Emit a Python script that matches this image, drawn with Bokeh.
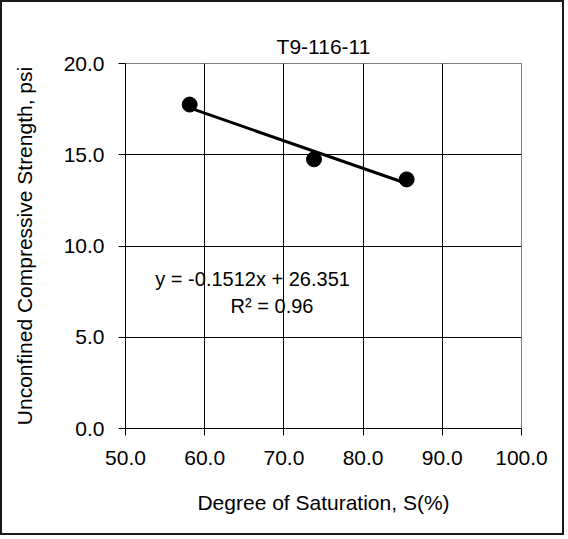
from bokeh.plotting import figure
from bokeh.models import NumeralTickFormatter, FixedTicker, Range1d, Label
from bokeh.embed import file_html
from bokeh.resources import INLINE

# data
saturation = [58.1, 73.8, 85.5]
ucs = [17.75, 14.75, 13.65]
slope = -0.1512
intercept = 26.351
r_squared = 0.96
x_ticks = [50, 60, 70, 80, 90, 100]
y_ticks = [0, 5, 10, 15, 20]
title_text = "T9-116-11"
x_label = "Degree of Saturation, S(%)"
y_label = "Unconfined Compressive Strength, psi"

FONT = "Liberation Sans"
FS = "21px"

p = figure(width=564, height=535,
           x_range=Range1d(x_ticks[0], x_ticks[-1]),
           y_range=Range1d(y_ticks[0], y_ticks[-1]),
           output_backend="svg", toolbar_location=None,
           min_border_left=123, min_border_right=45,
           min_border_top=61, min_border_bottom=109,
           title=title_text)
p.styles = {"border": "2px solid #1a1a1a"}

p.title.align = "center"
p.title.text_font = FONT
p.title.text_font_size = FS
p.title.text_font_style = "normal"
p.title.text_color = "black"
p.title.standoff = 11

p.outline_line_color = "#808080"
p.outline_line_width = 1
p.background_fill_color = "white"
p.border_fill_color = "white"

for ax, ticks, lab in ((p.xaxis[0], x_ticks, x_label), (p.yaxis[0], y_ticks, y_label)):
    ax.ticker = FixedTicker(ticks=ticks)
    ax.formatter = NumeralTickFormatter(format="0.0")
    ax.axis_label = lab
    ax.axis_label_text_font = FONT
    ax.axis_label_text_font_size = FS
    ax.axis_label_text_font_style = "normal"
    ax.axis_label_text_color = "black"
    ax.major_label_text_font = FONT
    ax.major_label_text_font_size = FS
    ax.major_label_text_color = "black"
    ax.axis_line_color = "black"
    ax.axis_line_width = 1
    ax.major_tick_line_color = "black"
    ax.major_tick_out = 7
    ax.major_tick_in = 0
    ax.minor_tick_line_color = None

p.yaxis[0].major_label_standoff = 14
p.yaxis[0].axis_label_standoff = 25
p.xaxis[0].major_label_standoff = 15
p.xaxis[0].axis_label_standoff = 23

p.xgrid.ticker = FixedTicker(ticks=x_ticks[1:-1])
p.ygrid.ticker = FixedTicker(ticks=y_ticks[1:-1])
for g in (p.xgrid[0], p.ygrid[0]):
    g.grid_line_color = "black"
    g.grid_line_width = 1

# linear trendline over data extent
x0, x1 = min(saturation), max(saturation)
p.line([x0, x1], [slope * x0 + intercept, slope * x1 + intercept],
       line_color="black", line_width=3)
p.scatter(saturation, ucs, size=15, fill_color="black", line_color="black")

eq = Label(x=66.4, y=8.2, text=f"y = {slope}x  + {intercept}",
           text_align="center", text_baseline="middle",
           text_font=FONT, text_font_size="20px", text_color="black")
r2 = Label(x=68.5, y=6.73, text=f"R\u00b2 = {r_squared}",
           text_align="center", text_baseline="middle",
           text_font=FONT, text_font_size="20px", text_color="black")
p.add_layout(eq)
p.add_layout(r2)

open("out.html", "w").write(file_html(p, INLINE))
